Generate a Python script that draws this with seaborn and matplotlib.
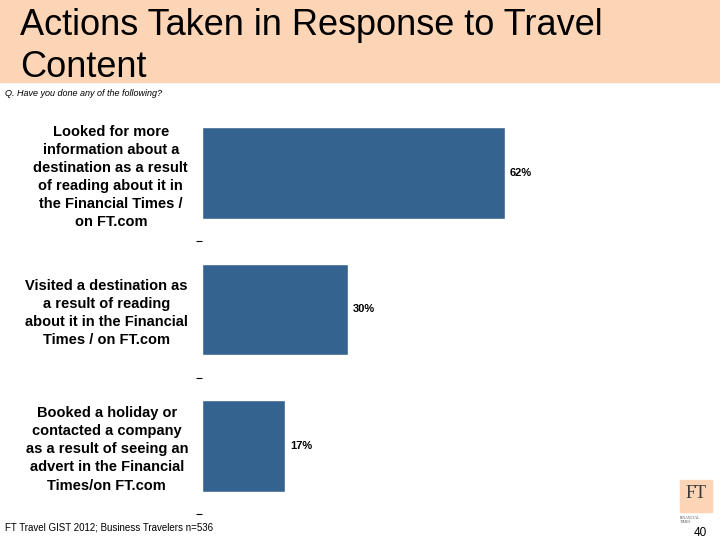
import matplotlib
matplotlib.use("Agg")
import matplotlib.pyplot as plt
import matplotlib.patches as mpatches
import pandas as pd
import seaborn as sns

# ---------------------------------- DATA ----------------------------------
actions = [
    "Looked for more\ninformation about a\ndestination as a result\nof reading about it in\nthe Financial Times /\non FT.com",
    "Visited a destination as\na result of reading\nabout it in the Financial\nTimes / on FT.com",
    "Booked a holiday or\ncontacted a company\nas a result of seeing an\nadvert in the Financial\nTimes/on FT.com",
]
shares = [62, 30, 17]

TITLE = "Actions Taken in Response to Travel\nContent"
QUESTION = "Q. Have you done any of the following?"
SOURCE = "FT Travel GIST 2012; Business Travelers n=536"
PAGE = "40"

BAR_COLOR = "#35638F"
PEACH = "#FBD5B5"

df = pd.DataFrame({"Action": actions, "Share": shares})

# ---------------------------------- FIGURE ----------------------------------
sns.set_style("white")
plt.rcParams["font.family"] = ["Liberation Sans", "DejaVu Sans"]
plt.rcParams["text.color"] = "black"
plt.rcParams["ytick.color"] = "black"
plt.rcParams["ytick.labelcolor"] = "black"

fig = plt.figure(figsize=(7.2, 5.4), dpi=100)

# title band
fig.patches.append(mpatches.Rectangle((0, 1 - 82 / 540), 1, 82 / 540,
                                      transform=fig.transFigure, color=PEACH, zorder=0))
fig.text(20 / 720, 1 - 8 / 540, TITLE, fontsize=26, va="top", ha="left",
         linespacing=1.27)
fig.text(5 / 720, 1 - 93 / 540, QUESTION, fontsize=6.5, style="italic",
         va="center", ha="left")

ax = fig.add_axes([202 / 720, 26 / 540, 488 / 720, 409 / 540])
sns.barplot(data=df, x="Share", y="Action", orient="h", color=BAR_COLOR,
            width=0.67, saturation=1, ax=ax)

ax.set_xlim(0, 100)
ax.set_ylim(2.5, -0.5)
ax.set_xlabel("")
ax.set_ylabel("")
ax.set_xticks([])
sns.despine(ax=ax, left=True, bottom=True)

ax.tick_params(axis="y", which="major", length=0, pad=10)
for lbl in ax.get_yticklabels():
    lbl.set_fontweight("bold")
    lbl.set_fontsize(10.5)
    lbl.set_multialignment("center")
    lbl.set_linespacing(1.37)

ax.set_yticks([0.5, 1.5, 2.5], minor=True)
ax.tick_params(axis="y", which="minor", left=True, length=4, width=0.8,
               color="black")

for bar, val in zip(ax.patches, shares):
    ax.text(bar.get_width() + 1, bar.get_y() + bar.get_height() / 2, f"{val}%",
            fontsize=8, fontweight="bold", va="center", ha="left")

fig.text(5 / 720, 1 - 528 / 540, SOURCE, fontsize=7, va="center", ha="left")

# FT logo, bottom right
fig.patches.append(mpatches.Rectangle((680 / 720, 1 - 512 / 540), 32 / 720, 32 / 540,
                                      transform=fig.transFigure, color=PEACH, zorder=0))
fig.text(696 / 720, 1 - 494 / 540, "FT", fontsize=13, family="Liberation Serif",
         color="#3a3a3a", ha="center", va="center")
fig.text(680 / 720, 1 - 520 / 540, "FINANCIAL\nTIMES", fontsize=2.8,
         family="Liberation Serif", color="#555555", ha="left", va="center",
         linespacing=1.2)
fig.text(700 / 720, 1 - 533 / 540, PAGE, fontsize=8.5, ha="center", va="center")

plt.savefig("out.png", dpi=100)
